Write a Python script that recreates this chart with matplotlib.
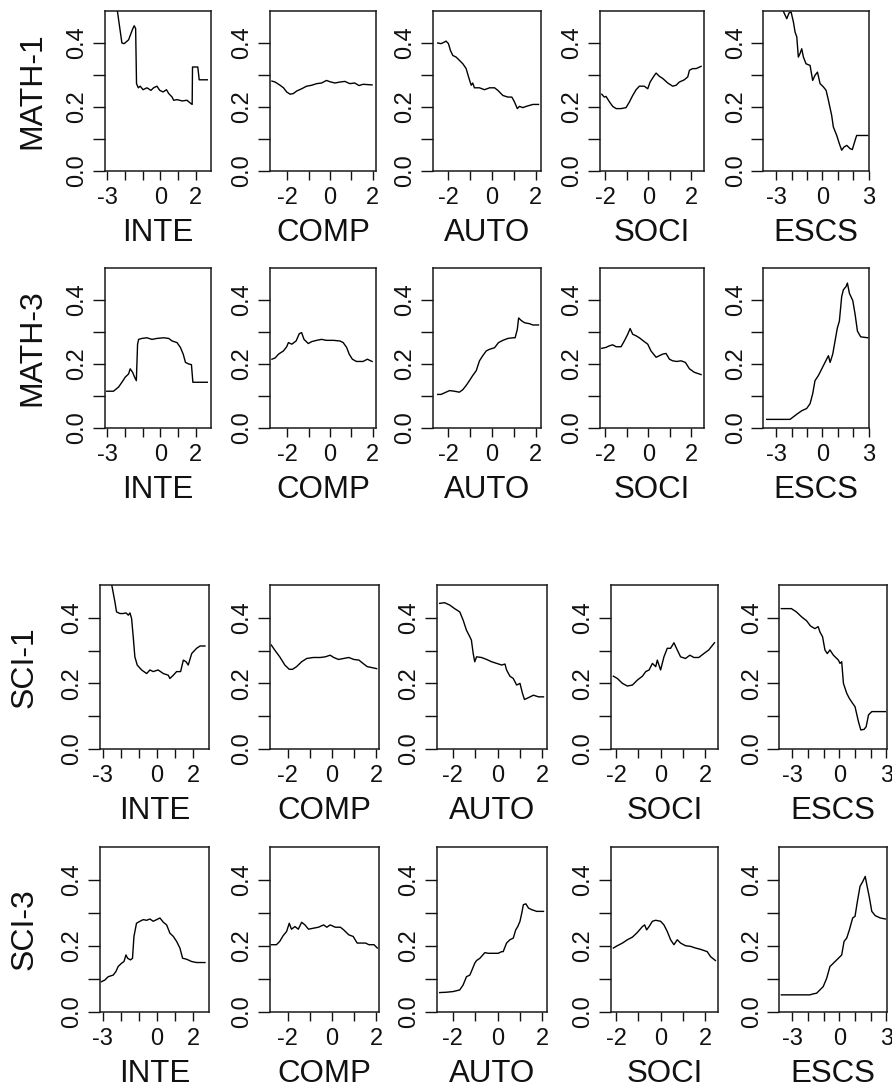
import matplotlib
matplotlib.use("Agg")
import matplotlib.pyplot as plt

plt.rcParams['font.family'] = ['Liberation Sans', 'DejaVu Sans']

# ---------------- categories ----------------
row_names = ["MATH-1", "MATH-3", "SCI-1", "SCI-3"]
var_names = ["INTE", "COMP", "AUTO", "SOCI", "ESCS"]

# x ticks and which tick values carry a label
x_ticks = {
    "INTE": [-3, -2, -1, 0, 1, 2],
    "COMP": [-2, -1, 0, 1, 2],
    "AUTO": [-2, -1, 0, 1, 2],
    "SOCI": [-2, -1, 0, 1, 2],
    "ESCS": [-3, -2, -1, 0, 1, 2, 3],
}
x_tick_shown = {
    "INTE": [-3, 0, 2],
    "COMP": [-2, 0, 2],
    "AUTO": [-2, 0, 2],
    "SOCI": [-2, 0, 2],
    "ESCS": [-3, 0, 3],
}
y_ticks = [0.0, 0.1, 0.2, 0.3, 0.4]
y_tick_shown = [0.0, 0.2, 0.4]

# ---------------- MATH-1 ----------------
math1_inte_x = [-2.9, -2.18, -2.05, -1.80, -1.56, -1.48, -1.40, -1.35, -1.25, -1.14, -0.98, -0.76, -0.53, -0.38, -0.19, -0.03, 0.16, 0.35, 0.48, 0.67, 0.76, 0.95, 1.24, 1.52, 1.71, 1.81, 1.83, 2.13, 2.21, 2.67]
math1_inte_y = [0.68, 0.40, 0.398, 0.41, 0.445, 0.454, 0.445, 0.273, 0.26, 0.265, 0.254, 0.26, 0.252, 0.26, 0.265, 0.252, 0.247, 0.254, 0.242, 0.231, 0.221, 0.223, 0.219, 0.221, 0.212, 0.208, 0.325, 0.325, 0.285, 0.285]
math1_comp_x = [-2.71, -2.56, -2.33, -2.17, -2.02, -1.86, -1.71, -1.55, -1.32, -1.09, -0.85, -0.62, -0.39, -0.16, 0.0, 0.23, 0.47, 0.70, 0.93, 1.16, 1.36, 1.55, 1.97]
math1_comp_y = [0.281, 0.278, 0.268, 0.260, 0.247, 0.240, 0.242, 0.25, 0.257, 0.265, 0.268, 0.273, 0.275, 0.283, 0.279, 0.275, 0.278, 0.28, 0.273, 0.275, 0.267, 0.271, 0.269]
math1_auto_x = [-2.49, -2.34, -2.18, -2.11, -2.0, -1.91, -1.80, -1.65, -1.50, -1.34, -1.19, -1.08, -0.96, -0.89, -0.81, -0.58, -0.35, -0.12, 0.11, 0.26, 0.49, 0.72, 0.90, 1.02, 1.15, 1.25, 1.40, 1.56, 1.71, 1.86, 2.12]
math1_auto_y = [0.40, 0.398, 0.403, 0.406, 0.398, 0.377, 0.361, 0.356, 0.346, 0.335, 0.32, 0.294, 0.268, 0.275, 0.26, 0.26, 0.254, 0.26, 0.26, 0.252, 0.236, 0.231, 0.231, 0.216, 0.195, 0.202, 0.198, 0.202, 0.205, 0.208, 0.208]
math1_soci_x = [-2.17, -2.05, -1.97, -1.81, -1.66, -1.50, -1.27, -1.04, -0.88, -0.73, -0.57, -0.42, -0.19, -0.03, 0.08, 0.28, 0.36, 0.51, 0.67, 0.90, 1.13, 1.29, 1.44, 1.67, 1.83, 1.91, 2.06, 2.22, 2.45]
math1_soci_y = [0.24, 0.231, 0.233, 0.216, 0.202, 0.195, 0.195, 0.198, 0.216, 0.236, 0.254, 0.265, 0.265, 0.257, 0.278, 0.299, 0.306, 0.296, 0.289, 0.275, 0.265, 0.268, 0.278, 0.285, 0.294, 0.315, 0.32, 0.32, 0.327]
math1_escs_x = [-3.0, -2.53, -2.31, -2.16, -2.03, -1.88, -1.77, -1.66, -1.56, -1.45, -1.34, -1.23, -1.06, -0.80, -0.63, -0.48, -0.32, -0.15, 0.06, 0.24, 0.39, 0.60, 0.71, 0.93, 1.10, 1.25, 1.40, 1.58, 1.79, 1.94, 2.12, 2.22, 2.94]
math1_escs_y = [0.58, 0.499, 0.476, 0.494, 0.497, 0.466, 0.434, 0.419, 0.356, 0.367, 0.382, 0.356, 0.335, 0.33, 0.283, 0.299, 0.309, 0.273, 0.263, 0.252, 0.221, 0.174, 0.1375, 0.111, 0.085, 0.065, 0.075, 0.08, 0.07, 0.067, 0.096, 0.111, 0.111]

# ---------------- MATH-3 ----------------
math3_inte_x = [-3.04, -2.66, -2.37, -2.18, -1.99, -1.80, -1.71, -1.57, -1.46, -1.36, -1.29, -1.23, -1.04, -0.76, -0.47, -0.19, 0.19, 0.48, 0.67, 0.95, 1.14, 1.30, 1.43, 1.62, 1.77, 1.85, 2.10, 2.67]
math3_inte_y = [0.114, 0.114, 0.127, 0.142, 0.158, 0.168, 0.184, 0.173, 0.158, 0.147, 0.261, 0.276, 0.279, 0.281, 0.276, 0.279, 0.281, 0.279, 0.271, 0.266, 0.251, 0.230, 0.204, 0.199, 0.197, 0.142, 0.142, 0.142]
math3_comp_x = [-2.71, -2.56, -2.40, -2.17, -2.02, -1.94, -1.78, -1.58, -1.43, -1.32, -1.21, -1.01, -0.85, -0.62, -0.39, -0.16, 0.16, 0.47, 0.62, 0.78, 0.90, 1.05, 1.24, 1.55, 1.75, 1.97]
math3_comp_y = [0.214, 0.218, 0.23, 0.24, 0.253, 0.266, 0.261, 0.271, 0.294, 0.297, 0.276, 0.263, 0.269, 0.273, 0.276, 0.273, 0.273, 0.271, 0.266, 0.251, 0.230, 0.214, 0.207, 0.207, 0.214, 0.207]
math3_auto_x = [-2.49, -2.34, -2.11, -1.95, -1.73, -1.50, -1.34, -1.19, -1.04, -0.89, -0.73, -0.58, -0.43, -0.27, -0.12, 0.11, 0.29, 0.49, 0.72, 0.95, 1.05, 1.15, 1.21, 1.33, 1.48, 1.71, 1.86, 2.12]
math3_auto_y = [0.104, 0.104, 0.111, 0.116, 0.114, 0.111, 0.119, 0.132, 0.147, 0.163, 0.178, 0.209, 0.225, 0.24, 0.245, 0.25, 0.266, 0.273, 0.279, 0.281, 0.281, 0.307, 0.343, 0.335, 0.328, 0.325, 0.321, 0.321]
math3_soci_x = [-2.17, -1.97, -1.81, -1.66, -1.50, -1.27, -1.12, -0.96, -0.85, -0.73, -0.57, -0.42, -0.23, -0.03, 0.12, 0.36, 0.51, 0.67, 0.82, 0.98, 1.13, 1.32, 1.52, 1.72, 1.91, 2.14, 2.45]
math3_soci_y = [0.248, 0.251, 0.256, 0.259, 0.253, 0.253, 0.271, 0.292, 0.310, 0.292, 0.287, 0.281, 0.271, 0.261, 0.24, 0.22, 0.225, 0.23, 0.232, 0.214, 0.209, 0.207, 0.209, 0.204, 0.184, 0.173, 0.166]
math3_escs_x = [-3.61, -2.10, -1.88, -1.66, -1.34, -1.02, -0.80, -0.63, -0.48, -0.26, -0.04, 0.17, 0.39, 0.50, 0.67, 0.82, 0.97, 1.10, 1.25, 1.36, 1.53, 1.62, 1.75, 1.97, 2.12, 2.27, 2.48, 2.94]
math3_escs_y = [0.026, 0.026, 0.034, 0.042, 0.053, 0.06, 0.075, 0.106, 0.147, 0.163, 0.184, 0.204, 0.225, 0.204, 0.23, 0.271, 0.312, 0.333, 0.41, 0.431, 0.441, 0.452, 0.42, 0.397, 0.354, 0.302, 0.284, 0.281]

# ---------------- SCI-1 ----------------
sci1_inte_x = [-2.9, -2.32, -2.23, -2.04, -1.86, -1.71, -1.58, -1.49, -1.40, -1.31, -1.22, -1.09, -0.85, -0.57, -0.39, -0.21, 0.06, 0.35, 0.62, 0.71, 0.90, 1.08, 1.30, 1.45, 1.60, 1.72, 1.91, 2.18, 2.37, 2.64]
sci1_inte_y = [0.62, 0.449, 0.418, 0.413, 0.413, 0.415, 0.408, 0.415, 0.398, 0.342, 0.281, 0.256, 0.241, 0.23, 0.241, 0.236, 0.241, 0.23, 0.225, 0.215, 0.225, 0.236, 0.236, 0.271, 0.266, 0.256, 0.291, 0.307, 0.314, 0.314]
sci1_comp_x = [-2.74, -2.59, -2.36, -2.13, -1.93, -1.78, -1.60, -1.37, -1.14, -0.84, -0.53, -0.30, -0.08, 0.08, 0.30, 0.53, 0.76, 0.99, 1.22, 1.44, 1.60, 1.75, 2.02]
sci1_comp_y = [0.317, 0.302, 0.281, 0.256, 0.243, 0.243, 0.251, 0.266, 0.276, 0.279, 0.279, 0.281, 0.286, 0.279, 0.273, 0.276, 0.279, 0.273, 0.271, 0.259, 0.251, 0.249, 0.245]
sci1_auto_x = [-2.59, -2.37, -2.14, -1.92, -1.69, -1.54, -1.39, -1.24, -1.17, -1.09, -1.02, -0.94, -0.72, -0.49, -0.27, -0.04, 0.18, 0.33, 0.40, 0.55, 0.70, 0.85, 1.00, 1.11, 1.20, 1.30, 1.45, 1.60, 1.83, 2.05]
sci1_auto_y = [0.444, 0.446, 0.439, 0.428, 0.418, 0.393, 0.362, 0.342, 0.332, 0.291, 0.266, 0.281, 0.279, 0.273, 0.266, 0.261, 0.256, 0.259, 0.241, 0.222, 0.215, 0.195, 0.2, 0.17, 0.151, 0.154, 0.159, 0.164, 0.159, 0.159]
sci1_soci_x = [-2.13, -1.95, -1.72, -1.50, -1.27, -1.05, -0.82, -0.67, -0.52, -0.37, -0.22, -0.15, 0.0, 0.15, 0.30, 0.45, 0.60, 0.75, 0.90, 1.12, 1.32, 1.50, 1.72, 1.95, 2.17, 2.43]
sci1_soci_y = [0.222, 0.215, 0.2, 0.192, 0.195, 0.21, 0.222, 0.236, 0.241, 0.261, 0.251, 0.271, 0.241, 0.281, 0.307, 0.307, 0.324, 0.302, 0.281, 0.276, 0.286, 0.279, 0.279, 0.291, 0.302, 0.324]
sci1_escs_x = [-3.70, -3.06, -2.74, -2.41, -2.09, -1.84, -1.56, -1.35, -1.24, -1.07, -0.92, -0.77, -0.60, -0.38, -0.06, 0.04, 0.15, 0.26, 0.47, 0.64, 0.85, 1.00, 1.22, 1.37, 1.58, 1.71, 1.86, 2.07, 2.93]
sci1_escs_y = [0.428, 0.428, 0.418, 0.403, 0.391, 0.375, 0.367, 0.373, 0.357, 0.342, 0.302, 0.291, 0.302, 0.286, 0.271, 0.261, 0.266, 0.2, 0.17, 0.154, 0.139, 0.129, 0.083, 0.058, 0.06, 0.068, 0.104, 0.114, 0.114]

# ---------------- SCI-3 ----------------
sci3_inte_x = [-3.06, -2.87, -2.69, -2.41, -2.26, -2.14, -1.95, -1.82, -1.71, -1.62, -1.46, -1.35, -1.27, -1.13, -0.94, -0.76, -0.57, -0.39, -0.21, -0.02, 0.16, 0.35, 0.53, 0.71, 0.90, 1.08, 1.26, 1.41, 1.63, 1.91, 2.18, 2.64]
sci3_inte_y = [0.091, 0.096, 0.106, 0.111, 0.122, 0.137, 0.147, 0.152, 0.172, 0.162, 0.157, 0.162, 0.228, 0.268, 0.274, 0.279, 0.277, 0.281, 0.274, 0.279, 0.284, 0.271, 0.263, 0.238, 0.228, 0.213, 0.193, 0.162, 0.159, 0.152, 0.149, 0.149]
sci3_comp_x = [-2.74, -2.51, -2.36, -2.21, -2.05, -1.93, -1.83, -1.67, -1.52, -1.37, -1.22, -1.06, -0.84, -0.61, -0.38, -0.23, -0.08, 0.15, 0.38, 0.53, 0.76, 0.96, 1.14, 1.37, 1.52, 1.67, 1.90, 2.05]
sci3_comp_y = [0.203, 0.203, 0.213, 0.23, 0.243, 0.268, 0.250, 0.258, 0.250, 0.271, 0.263, 0.250, 0.253, 0.256, 0.263, 0.256, 0.263, 0.256, 0.256, 0.248, 0.233, 0.228, 0.208, 0.208, 0.208, 0.203, 0.203, 0.193]
sci3_auto_x = [-2.59, -2.29, -1.99, -1.69, -1.54, -1.39, -1.24, -1.17, -1.02, -0.94, -0.79, -0.57, -0.42, -0.19, 0.03, 0.18, 0.25, 0.40, 0.55, 0.70, 0.81, 0.90, 1.00, 1.08, 1.15, 1.26, 1.38, 1.53, 1.75, 2.05]
sci3_auto_y = [0.058, 0.059, 0.061, 0.066, 0.081, 0.106, 0.111, 0.122, 0.147, 0.155, 0.162, 0.179, 0.177, 0.177, 0.177, 0.182, 0.182, 0.208, 0.218, 0.223, 0.248, 0.258, 0.274, 0.299, 0.324, 0.327, 0.314, 0.309, 0.304, 0.304]
sci3_soci_x = [-2.13, -1.95, -1.72, -1.50, -1.27, -1.05, -0.82, -0.72, -0.63, -0.52, -0.37, -0.22, 0.0, 0.15, 0.30, 0.45, 0.60, 0.75, 0.90, 1.12, 1.35, 1.57, 1.80, 2.10, 2.25, 2.47]
sci3_soci_y = [0.193, 0.2, 0.208, 0.218, 0.226, 0.24, 0.258, 0.263, 0.248, 0.258, 0.274, 0.277, 0.274, 0.263, 0.243, 0.218, 0.203, 0.218, 0.208, 0.2, 0.198, 0.193, 0.189, 0.182, 0.167, 0.155]
sci3_escs_x = [-3.70, -1.88, -1.67, -1.45, -1.24, -1.03, -0.81, -0.60, -0.38, -0.06, 0.15, 0.30, 0.47, 0.64, 0.85, 1.00, 1.15, 1.32, 1.50, 1.65, 1.75, 1.90, 2.07, 2.29, 2.61, 2.93]
sci3_escs_y = [0.051, 0.051, 0.054, 0.056, 0.066, 0.076, 0.101, 0.137, 0.147, 0.162, 0.172, 0.213, 0.223, 0.248, 0.284, 0.289, 0.334, 0.380, 0.395, 0.410, 0.385, 0.350, 0.304, 0.291, 0.284, 0.281]

series = [
    [(math1_inte_x, math1_inte_y), (math1_comp_x, math1_comp_y), (math1_auto_x, math1_auto_y), (math1_soci_x, math1_soci_y), (math1_escs_x, math1_escs_y)],
    [(math3_inte_x, math3_inte_y), (math3_comp_x, math3_comp_y), (math3_auto_x, math3_auto_y), (math3_soci_x, math3_soci_y), (math3_escs_x, math3_escs_y)],
    [(sci1_inte_x, sci1_inte_y), (sci1_comp_x, sci1_comp_y), (sci1_auto_x, sci1_auto_y), (sci1_soci_x, sci1_soci_y), (sci1_escs_x, sci1_escs_y)],
    [(sci3_inte_x, sci3_inte_y), (sci3_comp_x, sci3_comp_y), (sci3_auto_x, sci3_auto_y), (sci3_soci_x, sci3_soci_y), (sci3_escs_x, sci3_escs_y)],
]

# ---------------- layout (pixels) ----------------
W, H = 892, 1090
x_limits = {"INTE": (-3.14, 2.88), "COMP": (-2.8, 2.14), "AUTO": (-2.72, 2.22),
            "SOCI": (-2.25, 2.6), "ESCS": (-3.83, 3.02)}
cols_top = [(105, 211), (270, 375.7), (432.7, 540.7), (600, 704.3), (763.3, 869)]
cols_bot = [(100, 209.3), (270, 379.3), (436.7, 547.3), (610.7, 718.3), (779.3, 886.7)]
rows_px = [(11, 171), (267.7, 427.7), (585, 749), (846.7, 1011.7)]
row_label_x = [32, 32, 25, 25]

fig = plt.figure(figsize=(W / 100, H / 100), dpi=100)

for r, rname in enumerate(row_names):
    top, bot = rows_px[r]
    cols = cols_top if r < 2 else cols_bot
    for c, vname in enumerate(var_names):
        l, rr = cols[c]
        ax = fig.add_axes([l / W, 1 - bot / H, (rr - l) / W, (bot - top) / H])
        xs, ys = series[r][c]
        ax.plot(xs, ys, color='black', lw=1.0)
        ax.set_xlim(*x_limits[vname])
        ax.set_ylim(0, 0.5)
        xt = x_ticks[vname]
        ax.set_xticks(xt)
        ax.set_xticklabels([str(v) if v in x_tick_shown[vname] else '' for v in xt])
        ax.set_yticks(y_ticks)
        ax.set_yticklabels([f"{v:.1f}" if v in y_tick_shown else '' for v in y_ticks],
                           rotation=90, va='center')
        ax.tick_params(axis='x', length=6.7, width=1.0, pad=5, labelsize=17, colors='#111111')
        ax.tick_params(axis='y', length=8.4, width=1.0, pad=3.5, labelsize=17, colors='#111111')
        for sp in ax.spines.values():
            sp.set_linewidth(1.1)
            sp.set_color('#1a1a1a')
        cx = (l + rr) / 2
        fig.text(cx / W, 1 - (bot + 62) / H, vname, ha='center', va='center',
                 fontsize=22.5, color='#111111')
    fig.text(row_label_x[r] / W, 1 - ((top + bot) / 2) / H, rname, rotation=90,
             ha='center', va='center', fontsize=23, color='#111111')

fig.savefig("out.png", dpi=100)
